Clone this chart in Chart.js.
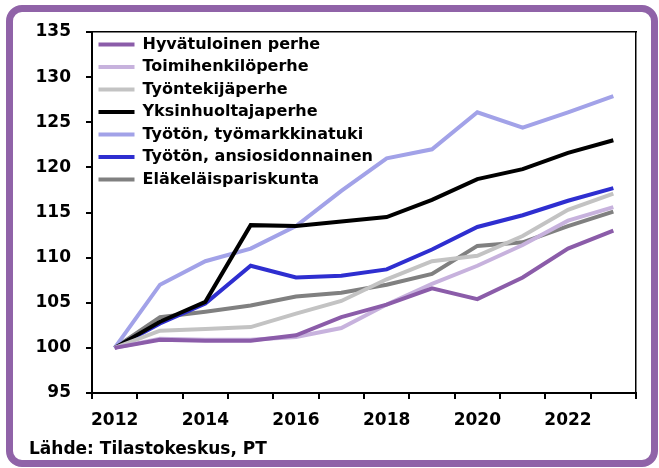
<!DOCTYPE html>
<html>
<head>
<meta charset="utf-8">
<script src="https://cdn.jsdelivr.net/npm/chart.js@4"></script>
<style>
  html, body { margin: 0; padding: 0; background: #fff; }
  #wrap { position: relative; width: 659px; height: 468px; }
  #frame {
    position: absolute; left: 6px; top: 5px; width: 638px; height: 448px;
    border: 7px solid #9063a8; border-radius: 16px; pointer-events: none;
  }
  canvas { position: absolute; left: 0; top: 0; }
</style>
</head>
<body>
<div id="wrap">
  <canvas id="chart" width="659" height="468"></canvas>
  <div id="frame"></div>
</div>
<script>
const years = ["2012", "2013", "2014", "2015", "2016", "2017", "2018", "2019", "2020", "2021", "2022", "2023"];
const hyvatuloinen = [100, 100.9, 100.8, 100.8, 101.4, 103.4, 104.8, 106.6, 105.4, 107.8, 111.0, 113.0];
const toimihenkilo = [100, 101.0, 100.9, 100.9, 101.2, 102.2, 104.8, 107.1, 109.1, 111.4, 114.1, 115.6];
const tyontekija = [100, 101.9, 102.1, 102.3, 103.8, 105.2, 107.6, 109.6, 110.2, 112.4, 115.3, 117.1];
const yksinhuoltaja = [100, 102.9, 105.1, 113.6, 113.5, 114.0, 114.5, 116.4, 118.7, 119.8, 121.6, 123.0];
const tyomarkkinatuki = [100, 107.0, 109.6, 111.0, 113.5, 117.4, 121.0, 122.0, 126.1, 124.4, 126.1, 127.9];
const ansiosidonnainen = [100, 102.7, 104.9, 109.1, 107.8, 108.0, 108.7, 110.9, 113.4, 114.7, 116.3, 117.7];
const elakelaiset = [100, 103.4, 104.0, 104.7, 105.7, 106.1, 107.0, 108.2, 111.3, 111.7, 113.5, 115.1];
const yMin = 95, yMax = 135, yStep = 5;

const font = { family: "DejaVu Sans", weight: "bold", size: 17 };
const legendFont = { family: "DejaVu Sans", weight: "bold", size: 16 };

function line(label, data, color) {
  return {
    label: label,
    data: data,
    borderColor: color,
    backgroundColor: color,
    borderWidth: 4,
    pointRadius: 0,
    tension: 0,
    fill: false,
  };
}

Chart.defaults.color = "#000";
Chart.defaults.font = font;

new Chart(document.getElementById("chart").getContext("2d"), {
  type: "line",
  data: {
    labels: years,
    datasets: [
      line("Hyvätuloinen perhe", hyvatuloinen, "#8b5ca9"),
      line("Toimihenkilöperhe", toimihenkilo, "#c7b2dd"),
      line("Työntekijäperhe", tyontekija, "#c3c3c3"),
      line("Yksinhuoltajaperhe", yksinhuoltaja, "#000000"),
      line("Työtön, työmarkkinatuki", tyomarkkinatuki, "#a2a2e8"),
      line("Työtön, ansiosidonnainen", ansiosidonnainen, "#2e2ed0"),
      line("Eläkeläispariskunta", elakelaiset, "#808080"),
    ],
  },
  options: {
    responsive: false,
    animation: false,
    layout: { padding: { left: 29, right: 23, top: 32, bottom: 8 } },
    plugins: {
      tooltip: { enabled: false },
      legend: {
        position: "chartArea",
        align: "start",
        // the legend box starts at the canvas top, an empty title pushes it down
        title: { display: true, text: "", font: { size: 10, lineHeight: 1 }, padding: { top: 10, bottom: 10 } },
        labels: {
          font: legendFont,
          color: "#000",
          boxWidth: 36,
          boxHeight: 4,
          padding: 6.5,
          generateLabels: (chart) =>
            Chart.defaults.plugins.legend.labels.generateLabels(chart).map((l) => ({ ...l, lineWidth: 0 })),
        },
      },
      title: {
        display: true,
        position: "bottom",
        align: "start",
        text: "Lähde: Tilastokeskus, PT",
        font: font,
        color: "#000",
        padding: 0,
      },
    },
    scales: {
      x: {
        type: "category",
        offset: true,
        afterFit: (s) => { s.height = 46.6; },
        grid: { offset: true, drawOnChartArea: false, tickLength: 6, color: "#000", lineWidth: 2 },
        border: { color: "#000", width: 2 },
        ticks: {
          autoSkip: false,
          maxRotation: 0,
          padding: 11,
          font: font,
          callback: function (v, i) { return i % 2 === 0 ? this.getLabelForValue(v) : ""; },
        },
      },
      x2: {
        position: "top",
        offset: true,
        afterFit: (s) => { s.height = 0; },
        grid: { display: false },
        border: { color: "#000", width: 1.5 },
        ticks: { display: false },
      },
      y: {
        min: yMin,
        max: yMax,
        afterFit: (s) => { s.width = 63; },
        grid: { drawOnChartArea: false, tickLength: 6, color: "#000", lineWidth: 2 },
        border: { color: "#000", width: 2 },
        ticks: { stepSize: yStep, padding: 15, font: font },
      },
      y2: {
        position: "right",
        min: yMin,
        max: yMax,
        afterFit: (s) => { s.width = 0; },
        grid: { display: false },
        border: { color: "#000", width: 1.5 },
        ticks: { display: false },
      },
    },
  },
});
</script>
</body>
</html>
